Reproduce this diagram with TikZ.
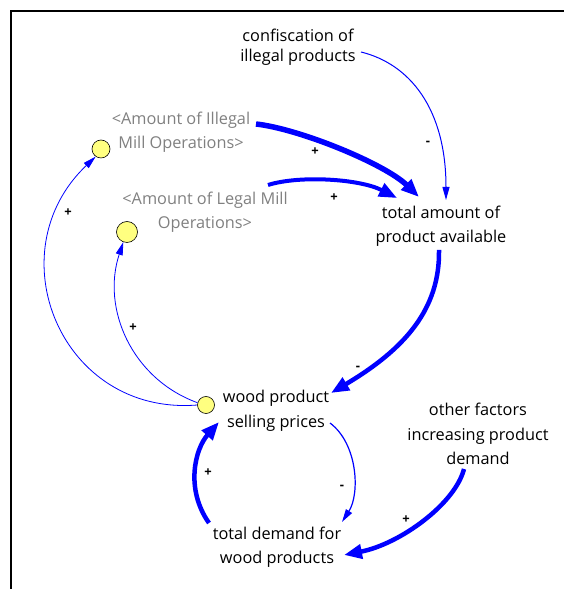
\documentclass[tikz,border=0pt]{standalone}
\usepackage{fontspec}
\setmainfont{Open Sans}
\usepackage{tikz}
\usetikzlibrary{arrows.meta}
\definecolor{vblue}{RGB}{0,0,255}
\definecolor{vgray}{RGB}{128,128,128}
\definecolor{vyellow}{RGB}{255,255,128}

\begin{document}
\begin{tikzpicture}[x=1pt, y=1pt]
        \tikzstyle{var}=[align=center, inner sep=0pt, font=\fontsize{16.3}{24.5}\selectfont]
        \tikzstyle{shadow}=[var, text=vgray]
        \tikzstyle{dot}=[circle, draw=black, fill=vyellow, line width=0.6pt, inner sep=0pt]
        \tikzstyle{link}=[color=vblue, line width=1pt, -{Triangle[length=13pt, width=7pt]}]
        \tikzstyle{strong link}=[color=vblue, line width=4.5pt, -{Triangle[length=18pt, width=14pt]}]
        \tikzstyle{sign}=[inner sep=0pt, font=\fontsize{13}{15}\selectfont\bfseries]

        \useasboundingbox (0,0) rectangle (564,589);
        \draw[line width=1.6pt] (11,0) -- (11,578) -- (564,578);

        % variables
        \node[var, font=\fontsize{16.3}{20}\selectfont] (conf) at (298,542) {confiscation of\\illegal products};
        \node[shadow] (illegal) at (181,457) {<Amount of Illegal\\Mill Operations>};
        \node[shadow] (legal) at (205,377) {<Amount of Legal Mill\\Operations>};
        \node[var] (total) at (441,363) {total amount of\\product available};
        \node[var] (wood) at (276,178) {wood product\\selling prices};
        \node[var] (other) at (478,155) {other factors\\increasing product\\demand};
        \node[var] (demand) at (277,42) {total demand for\\wood products};

        % shadow dots
        \node[dot, minimum size=18pt] (illc) at (101,440) {};
        \node[dot, minimum size=21pt] (legc) at (127,357) {};
        \node[dot, minimum size=17pt] (woodc) at (206,184) {};

        % links
        \draw[link] ([shift={(63,-5)}]conf.center) .. controls +(49,-12) and +(0,91) .. ([shift={(5,26)}]total.center);
        \draw[strong link, line width=5.5pt] ([shift={(75,8)}]illegal.center) .. controls +(44,-5) and +(-34,33) .. ([shift={(-22,29)}]total.center);
        \draw[strong link, line width=4pt] ([shift={(63,27)}]legal.center) .. controls +(32,10) and +(-37,19) .. ([shift={(-44,28)}]total.center);
        \draw[strong link] ([shift={(-2,-24)}]total.center) .. controls +(1,-59) and +(74,44) .. ([shift={(55,18)}]wood.center);
        \draw[link, line width=0.8pt] (woodc.180) .. controls +(-136,-11) and +(-101,-96) .. (illc.235);
        \draw[link, line width=0.8pt] (woodc.165) .. controls +(-66,24) and +(-22,-66) .. (legc.250);
        \draw[link, line width=1.2pt] ([shift={(54,-12)}]wood.center) .. controls +(28,-21) and +(18,28) .. ([shift={(65,25)}]demand.center);
        \draw[strong link] ([shift={(-68,24)}]demand.center) .. controls +(-24,34) and +(-24,-27) .. ([shift={(-57,-11)}]wood.center);
        \draw[strong link] ([shift={(-14,-35)}]other.center) .. controls +(-9,-35) and +(56,11) .. ([shift={(67,-8)}]demand.center);

        % polarities
        \node[sign] (s1) at (428,446) {-};
        \node[sign] (s2) at (315,437) {+};
        \node[sign] (s3) at (334,391) {+};
        \node[sign] (s4) at (68,376) {+};
        \node[sign] (s5) at (133,261) {+};
        \node[sign] (s6) at (358,221) {-};
        \node[sign] (s7) at (208,116) {+};
        \node[sign] (s8) at (342,102) {-};
        \node[sign] (s9) at (406,69) {+};
\end{tikzpicture}
\end{document}
